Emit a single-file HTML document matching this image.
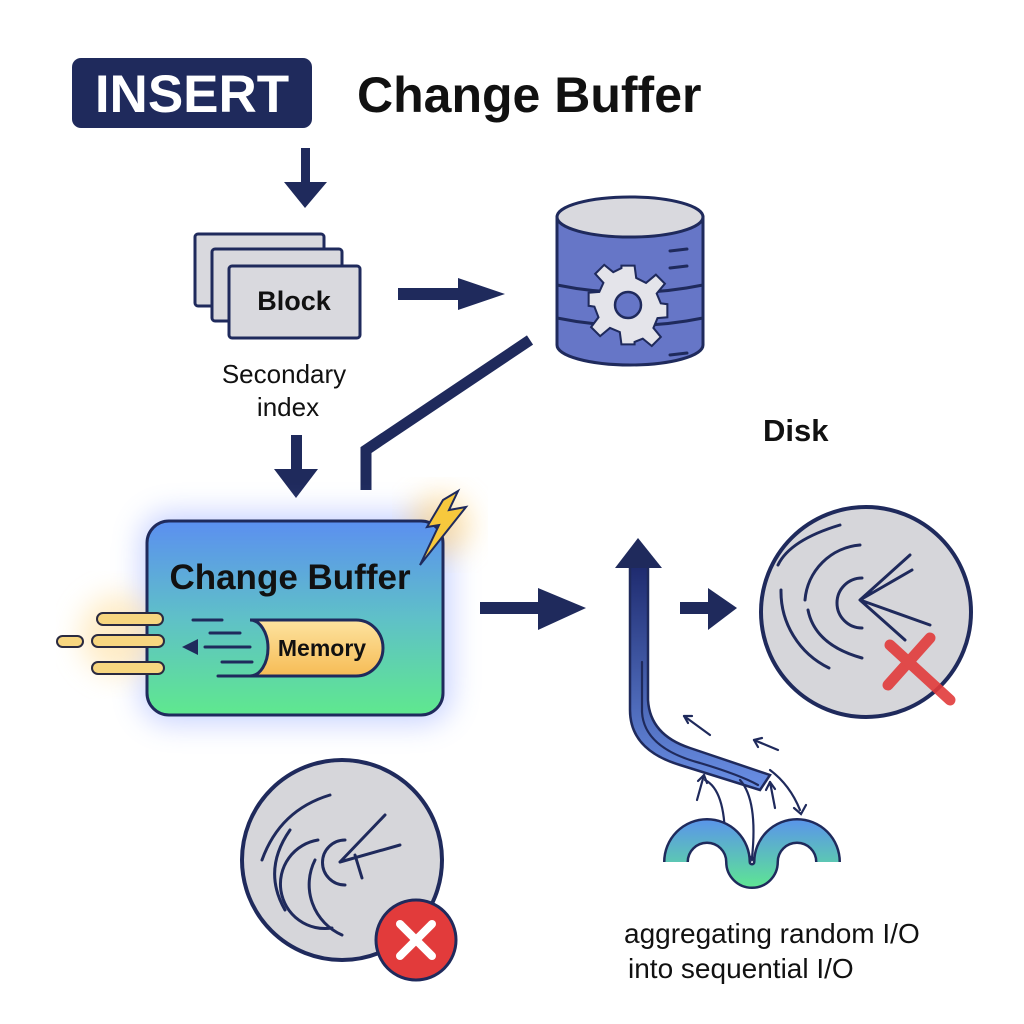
<!DOCTYPE html>
<html><head><meta charset="utf-8"><style>
html,body{margin:0;padding:0;background:#fff;}
svg{display:block;}
text{font-family:"Liberation Sans",sans-serif;}
</style></head><body>
<svg width="1024" height="1024" viewBox="0 0 1024 1024" xmlns="http://www.w3.org/2000/svg">
<defs>
<linearGradient id="cb" x1="0" y1="0" x2="0" y2="1">
<stop offset="0" stop-color="#5b8ff0"/><stop offset="0.5" stop-color="#5fc0c8"/><stop offset="1" stop-color="#5fe88e"/>
</linearGradient>
<linearGradient id="mem" x1="0" y1="0" x2="0" y2="1">
<stop offset="0" stop-color="#fde3a0"/><stop offset="1" stop-color="#f6bc55"/>
</linearGradient>
<linearGradient id="up" x1="0" y1="0" x2="0" y2="1">
<stop offset="0" stop-color="#1e2a6e"/><stop offset="1" stop-color="#6a90e6"/>
</linearGradient>
<linearGradient id="wave" gradientUnits="userSpaceOnUse" x1="0" y1="815" x2="0" y2="890">
<stop offset="0" stop-color="#5a8ff0"/><stop offset="1" stop-color="#5ee890"/>
</linearGradient>
<filter id="glow" x="-30%" y="-30%" width="160%" height="160%"><feGaussianBlur stdDeviation="14"/></filter>
</defs>

<!-- INSERT -->
<rect x="72" y="58" width="240" height="70" rx="9" fill="#1f2a5c"/>
<text x="192" y="112" font-size="53" font-weight="bold" fill="#fff" text-anchor="middle">INSERT</text>
<text x="357" y="112" font-size="50" font-weight="bold" fill="#111">Change Buffer</text>

<!-- down arrow 1 -->
<rect x="301" y="148" width="9" height="36" fill="#1f2a5c"/>
<polygon points="284,182 327,182 305,208" fill="#1f2a5c"/>

<!-- block stack -->
<g stroke="#1f2a5c" stroke-width="3" fill="#d9d9de">
<rect x="195" y="234" width="129" height="72" rx="3"/>
<rect x="212" y="249" width="130" height="72" rx="3"/>
<rect x="229" y="266" width="131" height="72" rx="3"/>
</g>
<text x="294" y="310" font-size="27" font-weight="bold" fill="#111" text-anchor="middle">Block</text>
<text x="284" y="383" font-size="26" fill="#111" text-anchor="middle">Secondary</text>
<text x="288" y="416" font-size="26" fill="#111" text-anchor="middle">index</text>

<!-- right arrow to db -->
<rect x="398" y="288" width="62" height="12" fill="#1f2a5c"/>
<polygon points="458,278 505,294 458,310" fill="#1f2a5c"/>

<!-- database -->
<g stroke="#1f2a5c" stroke-width="3">
<path d="M557,217 L557,345 A73,20 0 0 0 703,345 L703,217 Z" fill="#6676c7"/>
<ellipse cx="630" cy="217" rx="73" ry="20" fill="#d9d9de"/>
<path d="M557,285 Q630,300 703,285" fill="none"/>
<path d="M557,318 Q630,333 703,318" fill="none"/>
</g>
<g stroke="#1f2a5c" stroke-width="3" stroke-linecap="round">
<line x1="670" y1="251" x2="687" y2="249"/><line x1="670" y1="268" x2="687" y2="266"/><line x1="670" y1="355" x2="687" y2="353"/>
</g>
<g transform="translate(628,305)" stroke="#1f2a5c" stroke-width="2.5" fill="#e4e4ea">
<path d="M-8,-48 L8,-48 L10,-33 L22,-27 L34,-37 L45,-26 L35,-14 L40,-2 L48,-1 L48,15 L36,16 L31,28 L40,39 L29,50 L18,41 L8,45 L8,48 L-8,48 L-10,33 L-22,28 L-34,38 L-45,27 L-36,15 L-41,2 L-48,1 L-48,-15 L-35,-16 L-30,-27 L-40,-38 L-29,-49 L-18,-40 L-8,-45 Z" transform="scale(0.82)"/>
<circle cx="0" cy="0" r="13" fill="#6676c7"/>
</g>

<!-- diagonal connector -->
<polyline points="366,490 366,450 530,340" fill="none" stroke="#1f2a5c" stroke-width="11"/>

<!-- down arrow 2 -->
<rect x="291" y="435" width="11" height="36" fill="#1f2a5c"/>
<polygon points="274,469 318,469 296,498" fill="#1f2a5c"/>

<text x="763" y="441" font-size="31" font-weight="bold" fill="#111">Disk</text>

<!-- Change buffer box glow -->
<rect x="140" y="512" width="312" height="212" rx="30" fill="#8aa0ff" opacity="0.45" filter="url(#glow)"/>
<circle cx="440" cy="525" r="30" fill="#ffd27a" opacity="0.6" filter="url(#glow)"/>
<circle cx="120" cy="635" r="40" fill="#ffe0a0" opacity="0.6" filter="url(#glow)"/>
<rect x="147" y="521" width="296" height="194" rx="22" fill="url(#cb)" stroke="#1f2a5c" stroke-width="3"/>
<text x="290" y="589" font-size="35" font-weight="bold" fill="#111" text-anchor="middle">Change Buffer</text>
<polygon points="443,500 458,491 449,510 466,507 420,565 439,525 427,527" fill="#f7c83d" stroke="#1f2a5c" stroke-width="2"/>

<!-- speed lines left -->
<g stroke="#2a2a40" stroke-width="2" fill="#f7d680">
<rect x="97" y="613" width="66" height="12" rx="6"/>
<rect x="92" y="635" width="72" height="12" rx="6"/>
<rect x="57" y="636" width="26" height="11" rx="5.5"/>
<rect x="92" y="662" width="72" height="12" rx="6"/>
</g>

<!-- Memory pill -->
<path d="M250,620 L356,620 A27,28 0 0 1 356,676 L250,676 A18,28 0 0 0 250,620 Z" fill="url(#mem)" stroke="#1f2a5c" stroke-width="3"/>
<text x="322" y="656" font-size="23" font-weight="bold" fill="#111" text-anchor="middle">Memory</text>
<g stroke="#1f2a5c" stroke-width="3" stroke-linecap="round">
<line x1="193" y1="620" x2="222" y2="620"/><line x1="210" y1="633" x2="240" y2="633"/>
<line x1="205" y1="647" x2="250" y2="647"/><line x1="222" y1="662" x2="252" y2="662"/>
<line x1="218" y1="676" x2="250" y2="676"/>
</g>
<polygon points="182,647 198,639 198,655" fill="#1f2a5c"/>

<!-- arrow right -->
<rect x="480" y="602" width="60" height="12" fill="#1f2a5c"/>
<polygon points="538,588 586,608 538,630" fill="#1f2a5c"/>

<!-- big up arrow curving -->
<path d="M630,565 L630,710 Q630,750 680,765 L760,790 L770,775 L690,748 Q650,735 648,700 L648,565 Z" fill="url(#up)" stroke="#1f2a5c" stroke-width="2.5"/>
<polygon points="615,568 662,568 638,538" fill="#1f2a5c"/>
<g fill="none" stroke="#1f2a5c" stroke-width="2.2" stroke-linecap="round">
<path d="M642,662 L642,712 Q644,748 700,763 Q740,775 758,785"/>
<path d="M705,780 Q725,790 725,840"/>
<path d="M740,780 Q758,800 752,858"/>
<path d="M770,770 Q790,785 800,810"/>
<path d="M710,735 L684,716"/><path d="M684,716 L692,716 M684,716 L688,723"/>
<path d="M778,750 L754,740"/><path d="M754,740 L762,738 M754,740 L758,747"/>
<path d="M697,800 L704,775"/><path d="M704,775 L698,781 M704,775 L707,783"/>
<path d="M775,808 L770,782"/><path d="M770,782 L766,790 M770,782 L775,789"/>
<path d="M718,835 L725,842 L731,834"/><path d="M746,850 L752,860 L759,851"/><path d="M794,808 L801,814 L806,805"/>
</g>

<!-- small right arrow -->
<rect x="680" y="602" width="30" height="12" fill="#1f2a5c"/>
<polygon points="708,588 737,608 708,630" fill="#1f2a5c"/>

<!-- right disk -->
<circle cx="866" cy="612" r="105" fill="#d6d6da" stroke="#1f2a5c" stroke-width="4"/>
<g fill="none" stroke="#1f2a5c" stroke-width="3" stroke-linecap="round">
<path d="M781,590 A85,85 0 0 0 829,668"/>
<path d="M778,565 Q790,540 840,525"/>
<path d="M805,600 A60,60 0 0 1 860,545"/>
<path d="M808,610 Q815,645 862,658"/>
<path d="M862,578 A25,25 0 0 0 862,628"/>
<path d="M860,600 L910,555 M860,600 L912,570 M860,600 L930,625 M860,600 L905,640"/>
</g>
<g stroke="#e23b3b" stroke-width="11" stroke-linecap="round" opacity="0.9">
<line x1="888" y1="685" x2="930" y2="638"/><line x1="890" y1="645" x2="950" y2="700"/>
</g>

<!-- bottom-left disk -->
<ellipse cx="342" cy="860" rx="100" ry="100" fill="#d6d6da" stroke="#1f2a5c" stroke-width="4"/>
<g fill="none" stroke="#1f2a5c" stroke-width="3" stroke-linecap="round">
<path d="M330,795 Q280,810 262,860"/>
<path d="M318,840 A40,40 0 0 0 332,928"/>
<path d="M315,860 A55,55 0 0 0 342,935"/>
<path d="M290,830 Q262,870 285,910"/>
<path d="M345,885 A22,22 0 0 1 345,840"/>
<path d="M340,862 L385,815 M340,862 L400,845 M355,855 L362,878"/>
</g>
<circle cx="416" cy="940" r="40" fill="#e23b3b" stroke="#1f2a5c" stroke-width="3"/>
<g stroke="#fff" stroke-width="8" stroke-linecap="round">
<line x1="400" y1="924" x2="432" y2="956"/><line x1="432" y1="924" x2="400" y2="956"/>
</g>

<!-- wave -->
<path d="M676,862 A31,31 0 0 1 738,862 A14,14 0 0 0 766,862 A31,31 0 0 1 828,862" fill="none" stroke="#1f2a5c" stroke-width="26"/>
<path d="M676,862 A31,31 0 0 1 738,862 A14,14 0 0 0 766,862 A31,31 0 0 1 828,862" fill="none" stroke="url(#wave)" stroke-width="21"/>
<rect x="655" y="868" width="40" height="30" fill="#fff" opacity="0.85"/>
<rect x="808" y="868" width="40" height="30" fill="#fff" opacity="0.85"/>

<text x="624" y="943" font-size="28" fill="#111">aggregating random I/O</text>
<text x="628" y="978" font-size="28" fill="#111">into sequential I/O</text>
</svg>
</body></html>
